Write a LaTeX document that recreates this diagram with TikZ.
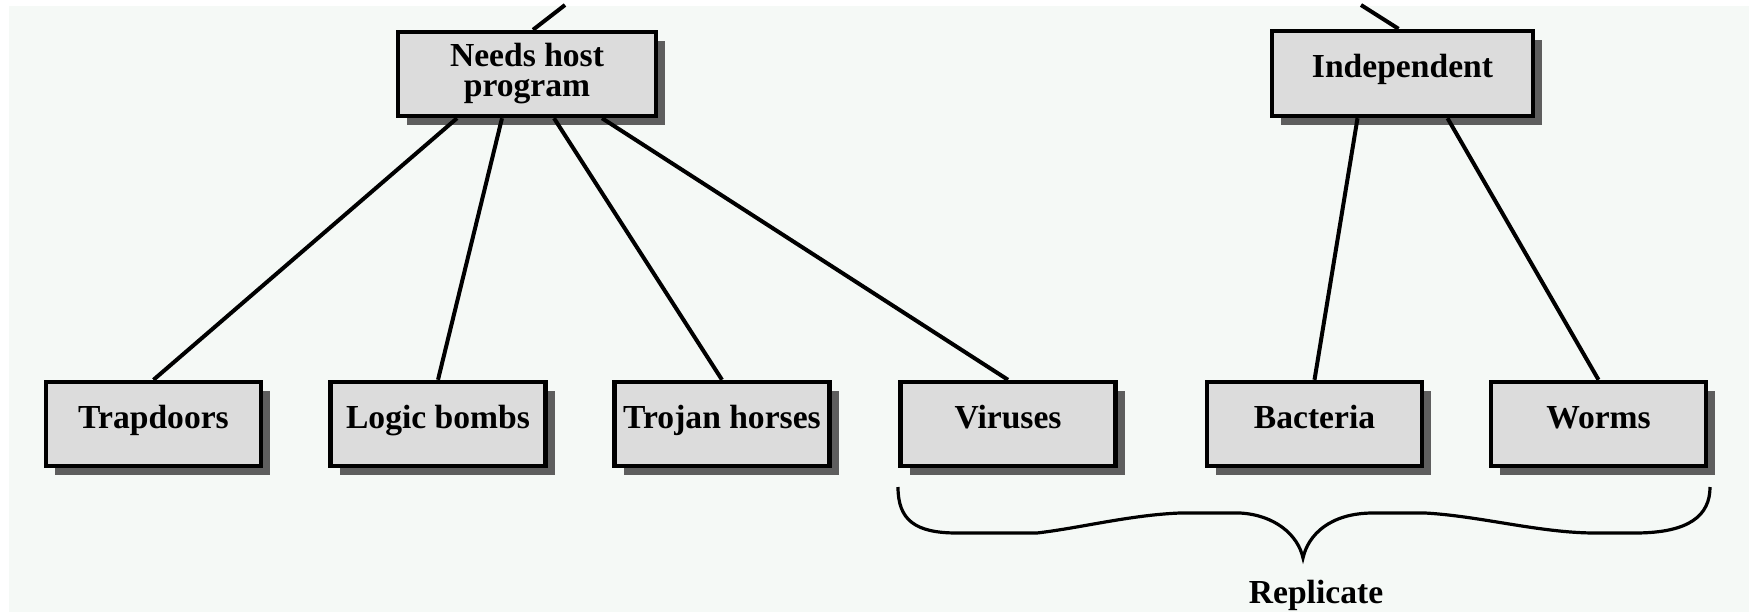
\documentclass[tikz,border=0pt]{standalone}
\usepackage{fontspec}
\setmainfont{Liberation Serif}
\usetikzlibrary{shadows,calc}
\definecolor{boxgray}{HTML}{DCDCDC}
\definecolor{shadowgray}{HTML}{5E5E5E}
\definecolor{paper}{HTML}{F5F9F6}

\begin{document}
\begin{tikzpicture}[x=0.5pt, y=-0.5pt,
    catbox/.style={draw, line width=2.2pt, fill=boxgray, inner sep=0pt, align=center,
      drop shadow={shadow xshift=4.5pt, shadow yshift=-4.5pt, fill=shadowgray, opacity=1},
      font=\fontsize{16.8pt}{15pt}\selectfont\bfseries},
    oneline/.style={text height=11.8pt, text depth=7.6pt},
    leaf/.style={catbox, oneline, minimum width=107.5pt, minimum height=42pt},
    link/.style={line width=2pt},
    brace/.style={line width=1.6pt}]
    \useasboundingbox (0, 0) rectangle (1749, 615);
    \fill[paper] (9, 6) rectangle (1749, 612);
    % the two groups
    \node[catbox, minimum width=129pt, minimum height=42pt] (host) at (527, 74) {Needs host\\program};
    \node[catbox, oneline, minimum width=130.5pt, minimum height=42.5pt] (indep) at (1402.5, 73.5) {Independent};
    % the six kinds
    \node[leaf] (trap) at (153.5, 424) {Trapdoors};
    \node[leaf] (logic) at (438, 424) {Logic bombs};
    \node[leaf] (trojan) at (722, 424) {Trojan horses};
    \node[leaf] (virus) at (1008, 424) {Viruses};
    \node[leaf] (bact) at (1314.5, 424) {Bacteria};
    \node[leaf] (worm) at (1598.5, 424) {Worms};
    % links up to the cut-off parent
    \coordinate (hostup) at (565, 5);
    \coordinate (indepup) at (1361, 5);
    \draw[link] ($(host.north)+(6, 0)$) -- (hostup);
    \draw[link] ($(indep.north)+(-4, 0)$) -- (indepup);
    % links down
    \draw[link] ($(host.south)+(-70, 0)$) -- (trap.north);
    \draw[link] ($(host.south)+(-25, 0)$) -- (logic.north);
    \draw[link] ($(host.south)+(27, 0)$) -- (trojan.north);
    \draw[link] ($(host.south)+(75, 0)$) -- (virus.north);
    \draw[link] ($(indep.south)+(-45, 0)$) -- (bact.north);
    \draw[link] ($(indep.south)+(45, 0)$) -- (worm.north);
    % brace under the last three
    \draw[brace] (898, 487) .. controls (898, 520) and (915, 533) .. (957, 533)
      -- (1037, 533) .. controls (1080, 528) and (1130, 515) .. (1180, 513)
      -- (1240, 513) .. controls (1275, 515) and (1298, 535) .. (1303, 558)
      .. controls (1308, 535) and (1330, 513) .. (1373, 513)
      -- (1425, 513) .. controls (1480, 516) and (1540, 533) .. (1595, 533)
      -- (1635, 533) .. controls (1690, 533) and (1710, 515) .. (1710, 487);
    \node[font=\fontsize{16.8pt}{15pt}\selectfont\bfseries, anchor=base] (rep) at (1316, 603) {Replicate};
\end{tikzpicture}
\end{document}
